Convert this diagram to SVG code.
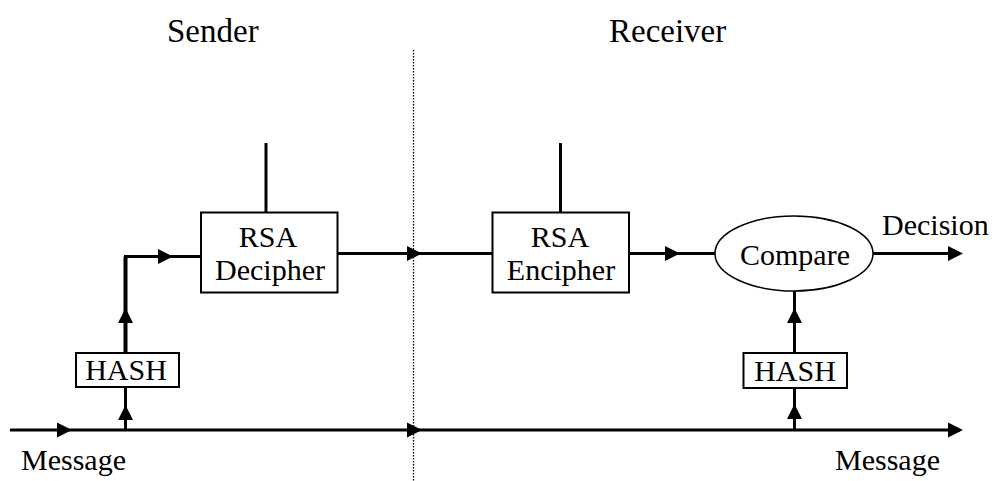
<svg xmlns="http://www.w3.org/2000/svg" width="995" height="481" viewBox="0 0 995 481">
<style>
  .t { font-family: "Liberation Serif", "Times New Roman", serif; fill: #000; }
  .lbl { font-size: 30px; text-anchor: middle; }
  .ttl { font-size: 33px; }
  .box { fill: #fff; stroke: #000; stroke-width: 2; }
  .ln { fill: none; stroke: #000; stroke-width: 3; }
  .ah { fill: #000; }
</style>
<defs>
  <path id="ar" d="M0,0 L-15,-7.5 L-15,7.5 Z" class="ah"/>
  <path id="au" d="M0,0 L-7.5,15 L7.5,15 Z" class="ah"/>
</defs>
<rect width="995" height="481" fill="#fff"/>

<text class="t ttl" x="167" y="42">Sender</text>
<text class="t ttl" x="609" y="42">Receiver</text>

<line x1="413.5" y1="50" x2="413.5" y2="481" stroke="#000" stroke-width="1.3" stroke-dasharray="1.5,1.5"/>

<g id="connectors">
  <!-- bottom message line -->
  <line class="ln" x1="10" y1="430" x2="960" y2="430"/>
  <use href="#ar" x="72" y="430"/>
  <use href="#ar" x="422" y="430"/>
  <use href="#ar" x="963" y="430"/>
  <!-- left hash path -->
  <line class="ln" x1="125.5" y1="430" x2="125.5" y2="387"/>
  <use href="#au" x="125.5" y="405"/>
  <path d="M125.5,353 L125.5,256.5" fill="none" stroke="#000" stroke-width="4"/>
  <line class="ln" x1="124" y1="256.5" x2="201" y2="256.5"/>
  <use href="#au" x="125.5" y="308"/>
  <use href="#ar" x="173" y="256.5"/>
  <!-- key stubs -->
  <line class="ln" x1="266" y1="143" x2="266" y2="212"/>
  <line class="ln" x1="560.5" y1="143" x2="560.5" y2="212"/>
  <!-- signature line -->
  <line class="ln" x1="338" y1="253.5" x2="492" y2="253.5"/>
  <use href="#ar" x="422" y="253.5"/>
  <line class="ln" x1="629" y1="253.5" x2="715" y2="253.5"/>
  <use href="#ar" x="680" y="253.5"/>
  <!-- decision -->
  <line class="ln" x1="873" y1="253.5" x2="960" y2="253.5"/>
  <use href="#ar" x="963" y="253.5"/>
  <!-- right hash path -->
  <line class="ln" x1="794.5" y1="430" x2="794.5" y2="388"/>
  <use href="#au" x="794.5" y="404"/>
  <line class="ln" x1="794.5" y1="353" x2="794.5" y2="291"/>
  <use href="#au" x="794.5" y="308"/>
</g>

<g id="hash-sender">
  <rect class="box" x="76" y="353" width="103" height="34"/>
  <text class="t lbl" x="126" y="380">HASH</text>
</g>

<g id="rsa-decipher">
  <rect class="box" x="201" y="212.5" width="136.5" height="80"/>
  <text class="t lbl" x="268" y="246.5">RSA</text>
  <text class="t lbl" x="270" y="279.5">Decipher</text>
</g>

<g id="rsa-encipher">
  <rect class="box" x="492.5" y="212.5" width="136.5" height="80"/>
  <text class="t lbl" x="560" y="246.5">RSA</text>
  <text class="t lbl" x="561" y="279.5">Encipher</text>
</g>

<g id="compare">
  <ellipse cx="794" cy="253.5" rx="79" ry="37.5" fill="#fff" stroke="#000" stroke-width="1.5"/>
  <text class="t lbl" x="795" y="265">Compare</text>
</g>

<g id="hash-receiver">
  <rect class="box" x="743.5" y="353" width="103.5" height="35"/>
  <text class="t lbl" x="795" y="380.5">HASH</text>
</g>

<text class="t" font-size="30" x="882" y="235">Decision</text>
<text class="t" font-size="30" x="21" y="470">Message</text>
<text class="t" font-size="30" x="835" y="470">Message</text>
</svg>
